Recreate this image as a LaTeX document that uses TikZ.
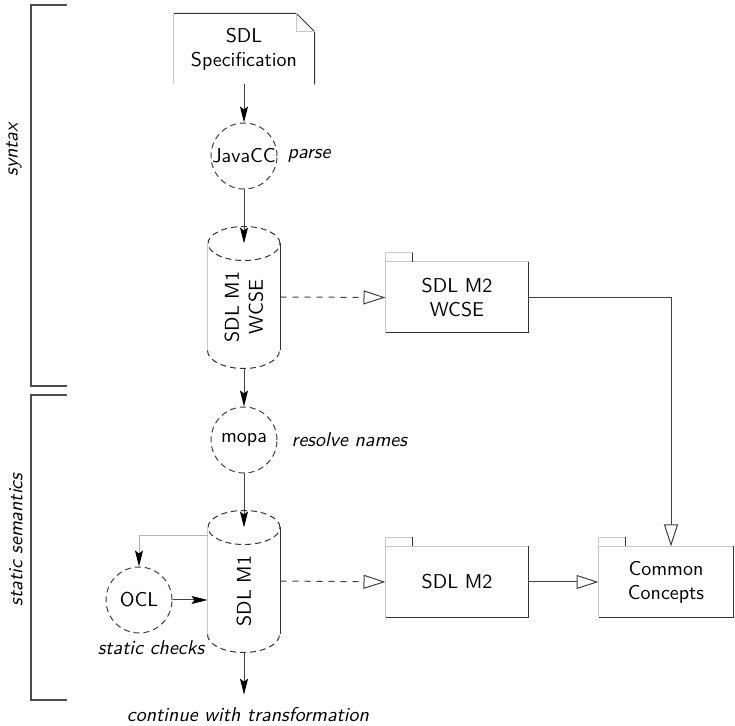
\documentclass[tikz,border=0pt]{standalone}
\usepackage{tikz}
\usetikzlibrary{arrows.meta, positioning, calc}

\begin{document}
\begin{tikzpicture}[
			x=0.5pt, y=-0.5pt,
			>=Stealth,
			line width=0.5pt,
			font=\sffamily,
			tool/.style={circle, draw=black!75, densely dashed, minimum size=33pt, inner sep=0pt},
			note/.style={font=\sffamily\itshape},
			store/.style={minimum width=36pt, minimum height=53pt, inner sep=0pt},
			vtext/.style={rotate=90, align=center, inner sep=1pt},
			pkg/.style={minimum width=71pt, minimum height=35pt, inner sep=0pt, align=center},
			flow/.style={-{Stealth[length=8pt, width=4pt, inset=1.5pt, color=black]}, draw=black!75},
			fb/.style={draw=black!30, -{Stealth[length=8pt, width=4pt, inset=1.5pt, color=black]}},
			real/.style={dashed, draw=black!75, -{Triangle[open, length=11pt, width=7pt, fill=white]}},
			gen/.style={draw=black!75, -{Triangle[open, length=11pt, width=7pt, fill=white]}},
			lit/.style={draw=black!22},
			dark/.style={draw=black!80},
			rim/.style={draw=black!80, densely dashed},
			brk/.style={draw=black!70, line width=0.8pt}
		]

		\useasboundingbox (0,0) rectangle (735,726);

		\def\xMain{244}
		\def\xPkg{457}
		\def\cylr{18pt}

		%% Left brackets
		\draw[brk] (67,5) -- (31,5) -- (31,386) -- (67,386);
		\node[note, rotate=90] (syntaxlbl) at (14,150) {syntax};
		\draw[brk] (67,395) -- (31,395) -- (31,700) -- (67,700);
		\node[note, rotate=90] (staticlbl) at (16,540) {static semantics};

		%% 1. SDL specification (document with folded corner)
		\node[pkg, minimum width=70pt] (spec) at (\xMain,49) {SDL\\Specification};
		\draw[dark] (spec.north west) -- ($(spec.north east)+(-18,0)$)
			-- ($(spec.north east)+(0,18)$) -- (spec.south east);
		\draw[lit] ($(spec.north east)+(-18,0)$) |- ($(spec.north east)+(0,18)$);
		\draw[lit] (spec.north west) -- (spec.south west);

		%% 2. Parser
		\node[tool, label=center:JavaCC] (javacc) at (\xMain,156) {};
		\node[note, right=1.5pt of javacc] (parsenote) {parse};

		%% 3. SDL M1 stores (cylinders)
		\node[store] (mone) at (\xMain,297) {};
		\node[vtext] (monetext) at (\xMain,307) {SDL M1\\WCSE};
		\node[store] (mtwo) at (\xMain,581) {};
		\node[vtext] (mtwotext) at (\xMain,591) {SDL M1};
		\foreach \c in {mone,mtwo} {
			\draw[rim] (\c.north) ellipse [x radius=\cylr, y radius=8.5pt];
			\draw[dark] (\c.north east) -- (\c.south east);
			\draw[lit] (\c.north west) -- (\c.south west);
			\draw[rim] (\c.south west) arc [start angle=180, end angle=360, x radius=\cylr, y radius=9pt];
		}

		%% 4. Name resolution
		\node[tool, label=center:mopa] (mopa) at (\xMain,440) {};
		\node[note, right=3.5pt of mopa] (resolvenote) {resolve names};

		%% 5. OCL checks
		\node[tool, label=center:OCL] (ocl) at (139,600) {};
		\node[note, below=0pt of ocl, xshift=6pt] (checknote) {static checks};
		\coordinate (fbstart) at ($(mtwo.north west)+(0,8)$);

		%% 6. Packages
		\node[pkg] (wcse) at (\xPkg,297.5) {SDL M2\\WCSE};
		\node[pkg] (sdlmtwo) at (\xPkg,582) {SDL M2};
		\node[pkg, minimum width=67pt] (common) at (666,582) {Common\\Concepts};
		\foreach \p in {wcse,sdlmtwo,common} {
			\draw[lit] (\p.south west) -- (\p.north west) -- (\p.north east);
			\draw[dark] (\p.north east) -- (\p.south east) -- (\p.south west);
			\draw[lit] (\p.north west) -- ++(0,-9) -- ++(27,0);
			\draw[dark] ($(\p.north west)+(27,-9)$) -- ($(\p.north west)+(27,0)$);
		}

		%% Continue
		\node[note] (cont) at (248,715) {continue with transformation};

		%% Connectors
		\draw[flow] (spec) -- (javacc);
		\draw[flow] (javacc) -- (mone.north);
		\draw[flow, shorten <=9pt] (mone.south) -- (mopa);
		\draw[flow] (mopa) -- (mtwo.north);
		\draw[fb] (fbstart) -| (ocl);
		\draw[flow] (ocl) -- (ocl -| mtwo.west);
		\draw[flow, shorten <=9pt, shorten >=3pt] (mtwo.south) -- (mtwo.south |- cont.north);
		\draw[real] (mone.east) -- (wcse.west);
		\draw[real] (mtwo.east) -- (sdlmtwo.west);
		\draw[gen] (sdlmtwo) -- (common);
		\draw[gen] (wcse.east) -| ([xshift=2.5pt]common.north);

		\end{tikzpicture}
\end{document}
